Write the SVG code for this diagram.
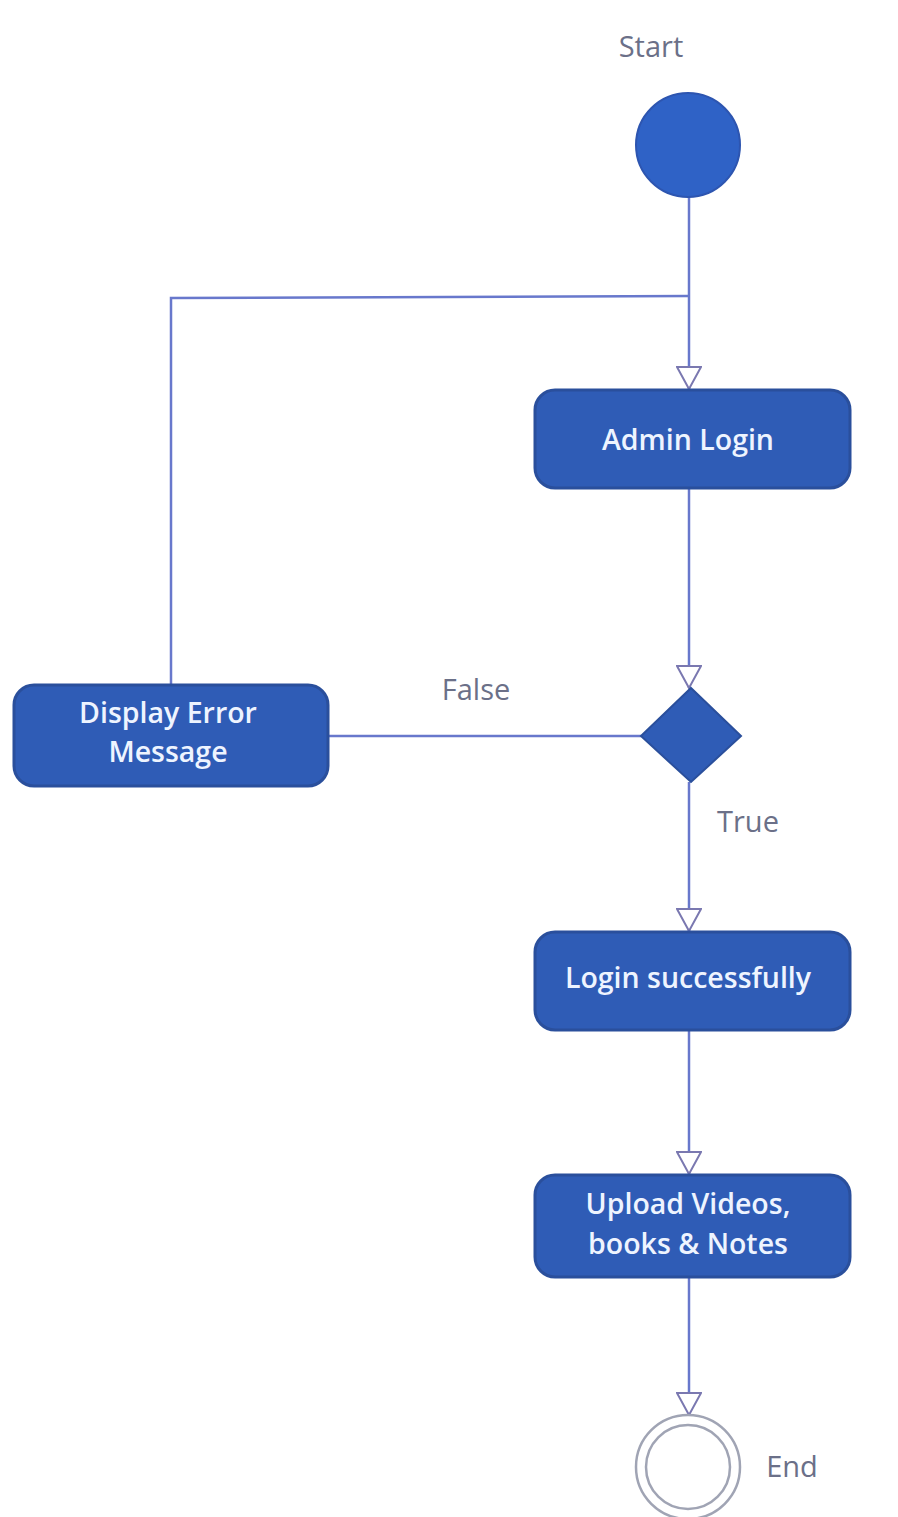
<svg xmlns="http://www.w3.org/2000/svg" width="898" height="1517" viewBox="0 0 898 1517">
  <style>
    .box { fill: #2f5cb6; stroke: #2a4f9c; stroke-width: 3; }
    .btxt { font-family: "Open Sans", "Liberation Sans", sans-serif; font-size: 28.5px; font-weight: 600; fill: #eef4ff; text-anchor: middle; }
    .lbl { font-family: "Open Sans", "Liberation Sans", sans-serif; font-size: 29px; fill: #6b7088; text-anchor: middle; }
    .edge { fill: none; stroke: #6878cc; stroke-width: 2.5; }
    .arrow { fill: #ffffff; stroke: #7a78b0; stroke-width: 2; }
  </style>
  <defs>
    <marker id="open" viewBox="0 0 26 24" refX="13" refY="23" markerWidth="26" markerHeight="24" markerUnits="userSpaceOnUse" orient="0">
      <path d="M1 1 L25 1 L13 23 Z" class="arrow"/>
    </marker>
  </defs>
  <rect width="898" height="1517" fill="#ffffff"/>

  <g id="connectors">
    <path class="edge" d="M689 197 V389" marker-end="url(#open)"/>
    <path class="edge" d="M689 296 L171 298 V685"/>
    <path class="edge" d="M689 488 V688" marker-end="url(#open)"/>
    <path class="edge" d="M641 736 H328"/>
    <path class="edge" d="M689 782 V931" marker-end="url(#open)"/>
    <path class="edge" d="M689 1030 V1174" marker-end="url(#open)"/>
    <path class="edge" d="M689 1277 V1415" marker-end="url(#open)"/>
  </g>

  <g id="start">
    <text class="lbl" x="651" y="57">Start</text>
    <circle cx="688" cy="145" r="52" fill="#2f62c6" stroke="#2d55b0" stroke-width="2"/>
  </g>

  <g id="admin-login">
    <rect class="box" x="535" y="390" width="315" height="98" rx="20"/>
    <text class="btxt" x="688" y="450">Admin Login</text>
  </g>

  <g id="decision">
    <polygon points="691,688 741,736 691,782 641,736" fill="#2f5cb6" stroke="#2a4f9c" stroke-width="2"/>
    <text class="lbl" x="476" y="700">False</text>
    <text class="lbl" x="748" y="832">True</text>
  </g>

  <g id="display-error">
    <rect class="box" x="14" y="685" width="314" height="101" rx="20"/>
    <text class="btxt" x="168" y="723">Display Error</text>
    <text class="btxt" x="168" y="762">Message</text>
  </g>

  <g id="login-success">
    <rect class="box" x="535" y="932" width="315" height="98" rx="20"/>
    <text class="btxt" x="688" y="988">Login successfully</text>
  </g>

  <g id="upload">
    <rect class="box" x="535" y="1175" width="315" height="102" rx="20"/>
    <text class="btxt" x="688" y="1214">Upload Videos,</text>
    <text class="btxt" x="688" y="1254">books &amp; Notes</text>
  </g>

  <g id="end">
    <circle cx="688" cy="1467" r="52" fill="#ffffff" stroke="#a0a4b4" stroke-width="2.5"/>
    <circle cx="688" cy="1467" r="42" fill="none" stroke="#a0a4b4" stroke-width="2.5"/>
    <text class="lbl" x="792" y="1477">End</text>
  </g>
</svg>
